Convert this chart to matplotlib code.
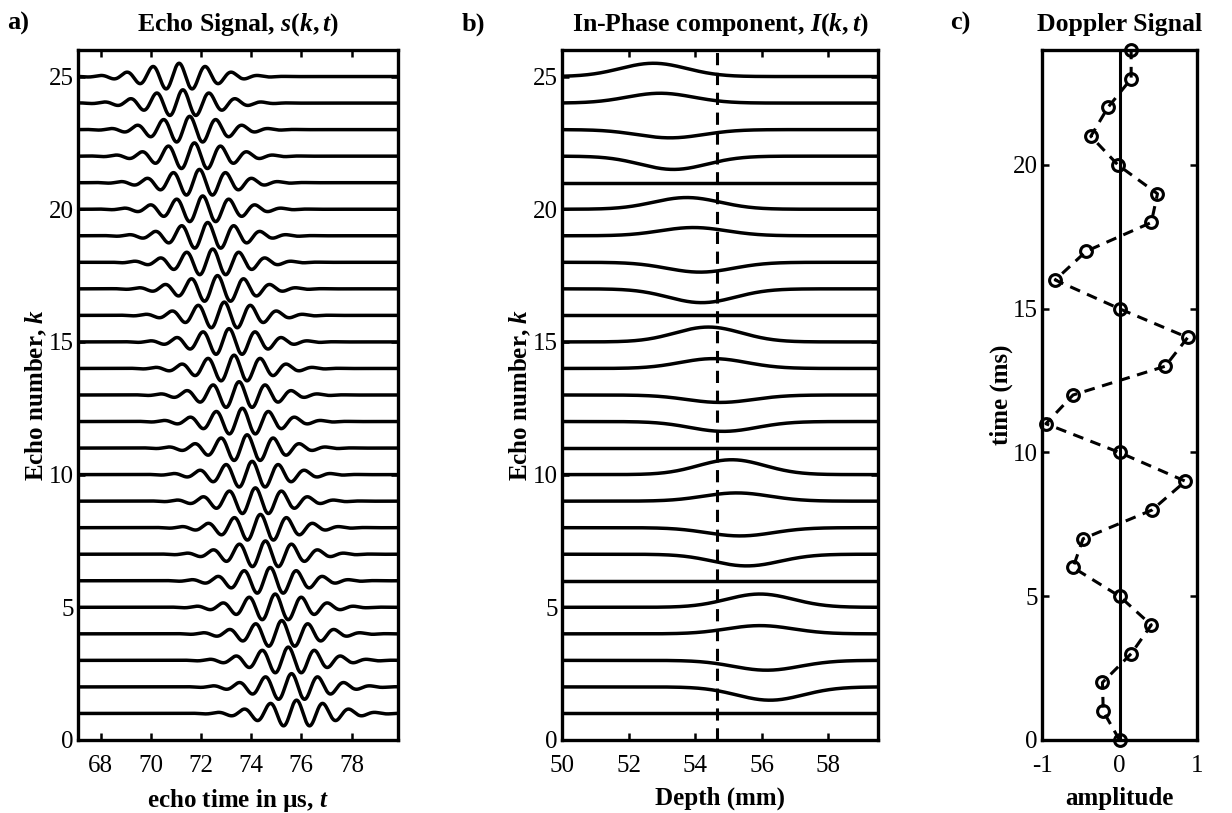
"""Echo signal, in-phase component and resulting Doppler signal (3 panels)."""
import numpy as np
import matplotlib
matplotlib.use("Agg")
import matplotlib.pyplot as plt

plt.rcParams["font.family"] = ["Liberation Serif", "DejaVu Serif"]
plt.rcParams["axes.labelweight"] = "bold"
plt.rcParams["axes.unicode_minus"] = False
plt.rcParams["mathtext.fontset"] = "custom"
plt.rcParams["mathtext.rm"] = "Liberation Serif:bold"
plt.rcParams["mathtext.it"] = "Liberation Serif:italic:bold"
plt.rcParams["mathtext.bf"] = "Liberation Serif:bold"
plt.rcParams["mathtext.bfit"] = "Liberation Serif:italic:bold"

# echo numbers k = 1..25
echo_k = list(range(1, 26))

# a) time of the main RF peak of each echo (us), k = 1..25
echo_peak_us = [75.81, 75.61, 75.48, 75.22, 74.96, 74.76, 74.57, 74.37, 74.17,
                74.04, 73.84, 73.65, 73.52, 73.32, 73.12, 72.93, 72.66, 72.47,
                72.27, 72.07, 71.94, 71.74, 71.55, 71.28, 71.13]
pulse_amp = 0.5        # in units of k
pulse_sigma_us = 1.4
pulse_period_us = 1.05

# b) in-phase bump per echo: centre depth (mm) and signed height, k = 1..25
iq_center_mm = [56.4, 56.25, 56.15, 55.95, 55.95, 55.7, 55.55, 55.35, 55.25,
                55.1, 55.0, 54.85, 54.75, 54.55, 54.4, 54.3, 54.2, 54.15,
                53.95, 53.75, 53.6, 53.35, 53.25, 52.95, 52.75]
iq_height = [0.0, -0.50, -0.37, 0.31, 0.50, 0.0, -0.44, -0.31, 0.31, 0.56,
             0.0, -0.37, -0.28, 0.37, 0.56, 0.0, -0.52, -0.37, 0.31, 0.44,
             0.0, -0.50, -0.31, 0.37, 0.50]
iq_sigma_mm = 1.0
sample_depth_mm = 54.65

# c) Doppler signal: amplitude at the sample depth vs time (ms)
doppler_t_ms = list(range(0, 25))
doppler_amp = [0.0, -0.21, -0.22, 0.15, 0.41, 0.0, -0.60, -0.47, 0.42, 0.85,
               0.0, -0.95, -0.60, 0.59, 0.88, 0.0, -0.83, -0.43, 0.41, 0.49,
               -0.02, -0.37, -0.15, 0.15, 0.15]

LW = 2.5
FS_TICK = 18
FS_LABEL = 18
FS_TITLE = 18.5


def style(ax):
    for s in ax.spines.values():
        s.set_linewidth(2.4)
    ax.tick_params(direction="in", length=5, width=1.8, top=True, right=True,
                   labelsize=FS_TICK)
    ax.tick_params(axis="x", pad=11)
    ax.tick_params(axis="y", pad=3)


fig = plt.figure(figsize=(12.32, 8.13), dpi=100)
ax_a = fig.add_axes([0.0633, 0.0898, 0.2597, 0.8487])
ax_b = fig.add_axes([0.4562, 0.0898, 0.2565, 0.8487])
ax_c = fig.add_axes([0.8458, 0.0898, 0.1258, 0.8487])

# a) echo signal
t = np.linspace(67.1, 79.85, 2000)
for k, tp in zip(echo_k, echo_peak_us):
    env = np.exp(-(t - tp) ** 2 / (2 * pulse_sigma_us ** 2))
    s = pulse_amp * env * np.cos(2 * np.pi * (t - tp) / pulse_period_us)
    ax_a.plot(t, k + s, color="k", lw=LW)
ax_a.set_xlim(67.1, 79.85)
ax_a.set_ylim(0, 26)
ax_a.set_xticks([68, 70, 72, 74, 76, 78])
ax_a.set_yticks([0, 5, 10, 15, 20, 25])
ax_a.set_xlabel(r"echo time in µs, $\mathit{t}$", fontsize=FS_LABEL, labelpad=7)
ax_a.set_ylabel(r"Echo number, $\mathit{k}$", fontsize=FS_LABEL, labelpad=0)
ax_a.set_title(r"Echo Signal, $\mathit{s(k,t)}$", fontsize=FS_TITLE,
               fontweight="bold", pad=14)
style(ax_a)

# b) in-phase component
d = np.linspace(50, 59.5, 800)
for k, c, h in zip(echo_k, iq_center_mm, iq_height):
    ax_b.plot(d, k + h * np.exp(-(d - c) ** 2 / (2 * iq_sigma_mm ** 2)),
              color="k", lw=LW)
ax_b.axvline(sample_depth_mm, color="k", lw=2.2, ls=(0, (4, 2.5)))
ax_b.set_xlim(50, 59.5)
ax_b.set_ylim(0, 26)
ax_b.set_xticks([50, 52, 54, 56, 58])
ax_b.set_yticks([0, 5, 10, 15, 20, 25])
ax_b.set_xlabel("Depth (mm)", fontsize=FS_LABEL, labelpad=7)
ax_b.set_ylabel(r"Echo number, $\mathit{k}$", fontsize=FS_LABEL, labelpad=0)
ax_b.set_title(r"In-Phase component, $\mathit{I(k,t)}$", fontsize=FS_TITLE,
               fontweight="bold", pad=14)
style(ax_b)

# c) Doppler signal
ax_c.axvline(0, color="k", lw=2.2)
ax_c.plot(doppler_amp, doppler_t_ms, color="k", lw=2.2, ls=(0, (3.5, 2.5)),
          marker="o", ms=8.5, mfc="none", mew=2.2, clip_on=False)
ax_c.set_xlim(-1, 1)
ax_c.set_ylim(0, 24)
ax_c.set_xticks([-1, 0, 1])
ax_c.set_yticks([0, 5, 10, 15, 20])
ax_c.set_xlabel("amplitude", fontsize=FS_LABEL, labelpad=7)
ax_c.set_ylabel("time (ms)", fontsize=FS_LABEL, labelpad=0)
ax_c.set_title("Doppler Signal", fontsize=FS_TITLE, fontweight="bold", pad=14)
style(ax_c)

for lbl, x in [("a)", 0.006), ("b)", 0.375), ("c)", 0.771)]:
    fig.text(x, 0.985, lbl, fontsize=19, fontweight="bold", va="top")

fig.savefig("out.png", dpi=100)
